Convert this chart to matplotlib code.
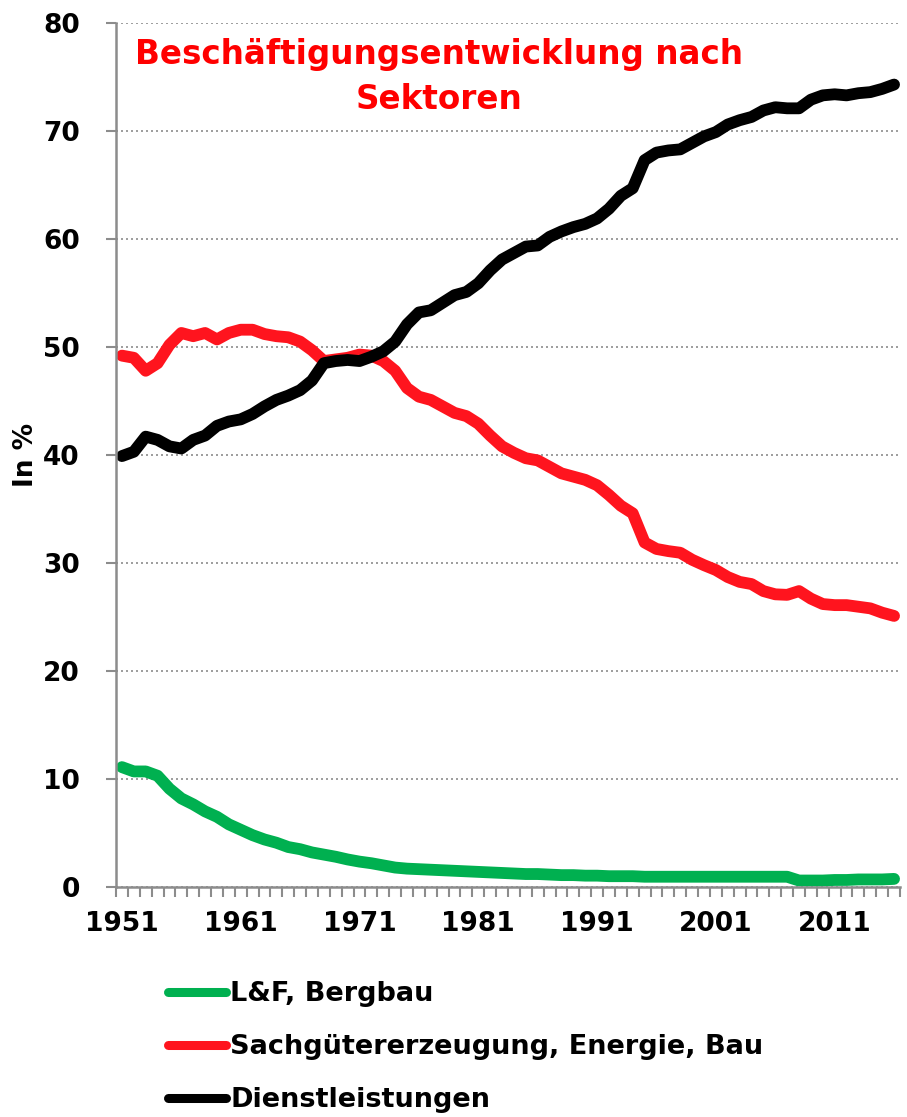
import matplotlib
matplotlib.use("Agg")
import matplotlib.pyplot as plt
from matplotlib.ticker import MultipleLocator, FixedLocator
import numpy as np

years = list(range(1951, 2017))

lf_bergbau = [11.1, 10.7, 10.7, 10.3, 9.1, 8.2, 7.65, 7.0, 6.5, 5.8,
              5.3, 4.8, 4.4, 4.1, 3.7, 3.5, 3.2, 3.0, 2.8, 2.55,
              2.35, 2.2, 2.0, 1.8, 1.7, 1.65, 1.6, 1.55, 1.5, 1.45,
              1.4, 1.35, 1.3, 1.25, 1.2, 1.2, 1.15, 1.1, 1.1, 1.05,
              1.05, 1.0, 1.0, 1.0, 0.95, 0.95, 0.95, 0.95, 0.95, 0.95,
              0.95, 0.95, 0.95, 0.95, 0.95, 0.95, 0.95, 0.6, 0.6, 0.6,
              0.65, 0.65, 0.7, 0.7, 0.7, 0.75]

sachgueter = [49.2, 49.0, 47.8, 48.5, 50.2, 51.3, 51.0, 51.3, 50.7, 51.3,
              51.6, 51.6, 51.2, 51.0, 50.9, 50.5, 49.7, 48.7, 48.85, 49.0,
              49.3, 49.2, 48.7, 47.8, 46.2, 45.4, 45.1, 44.5, 43.9, 43.6,
              42.9, 41.8, 40.8, 40.2, 39.7, 39.5, 38.9, 38.3, 38.0, 37.7,
              37.2, 36.3, 35.3, 34.6, 31.9, 31.3, 31.1, 30.95, 30.3, 29.8,
              29.35, 28.7, 28.25, 28.05, 27.4, 27.1, 27.05, 27.4, 26.7, 26.2,
              26.1, 26.1, 25.95, 25.8, 25.4, 25.1]

dienst = [39.9, 40.3, 41.7, 41.4, 40.8, 40.6, 41.4, 41.8, 42.7, 43.1,
          43.3, 43.8, 44.5, 45.1, 45.5, 46.0, 46.9, 48.5, 48.7, 48.8,
          48.7, 49.1, 49.6, 50.5, 52.1, 53.2, 53.4, 54.1, 54.8, 55.1,
          55.9, 57.1, 58.1, 58.7, 59.3, 59.4, 60.2, 60.7, 61.1, 61.4,
          61.9, 62.8, 64.0, 64.7, 67.3, 68.0, 68.2, 68.3, 68.9, 69.5,
          69.9, 70.6, 71.0, 71.3, 71.9, 72.2, 72.1, 72.1, 72.9, 73.3,
          73.4, 73.3, 73.5, 73.6, 73.9, 74.3]

labels = ["L&F, Bergbau", "Sachgütererzeugung, Energie, Bau", "Dienstleistungen"]
colors = ["#00B050", "#FF141E", "#000000"]
title = "Beschäftigungsentwicklung nach\nSektoren"
ylabel = "In %"
xtick_years = [1951, 1961, 1971, 1981, 1991, 2001, 2011]

plt.rcParams['font.family'] = ['DejaVu Sans']
plt.rcParams['font.weight'] = 'bold'

W, H = 907, 1117
fig = plt.figure(figsize=(W / 100, H / 100), dpi=100)
ax = fig.add_axes([116 / W, 1 - 887 / H, (900 - 116) / W, (887 - 23) / H])

for series, lab, col in zip([lf_bergbau, sachgueter, dienst], labels, colors):
    ax.plot(years, series, color=col, lw=8.5, label=lab,
            solid_capstyle='round', solid_joinstyle='round')

ax.set_xlim(1950.5, 2016.5)
ax.set_ylim(0, 80)
ax.yaxis.set_major_locator(MultipleLocator(10))
ax.xaxis.set_major_locator(FixedLocator(xtick_years))
ax.xaxis.set_minor_locator(FixedLocator(np.arange(1950.5, 2017, 1.0)))
ax.grid(axis='y', color='#8c8c8c', linestyle=(0, (1.2, 1.8)), lw=1.2)
ax.set_axisbelow(True)

for s in ['top', 'right']:
    ax.spines[s].set_visible(False)
for s in ['left', 'bottom']:
    ax.spines[s].set_color('#8c8c8c')
    ax.spines[s].set_linewidth(1.8)

ax.tick_params(axis='y', direction='out', length=7, width=1.5, color='#8c8c8c',
               labelsize=19, pad=19)
ax.tick_params(axis='x', which='major', length=0, labelsize=19, pad=17)
ax.tick_params(axis='x', which='minor', direction='out', length=7, width=1.5,
               color='#8c8c8c')
for lbl in ax.get_xticklabels() + ax.get_yticklabels():
    lbl.set_fontweight('bold')

ax.set_ylabel(ylabel, fontsize=19, fontweight='bold')
ax.yaxis.set_label_coords(-0.098, 0.5)

fig.text(439 / W, 1 - 77 / H, title, color='#FF0000', fontsize=23.5,
         fontweight='bold', ha='center', va='center', linespacing=1.45)

leg = ax.legend(loc='upper left', bbox_to_anchor=(168 / W, 1 - 981 / H),
                bbox_transform=fig.transFigure, frameon=False, fontsize=19.5,
                handlelength=2.15, handletextpad=0.15, labelspacing=1.0,
                borderaxespad=0, borderpad=0)
for t in leg.get_texts():
    t.set_fontweight('bold')
for l in leg.get_lines():
    l.set_linewidth(6.5)

fig.savefig('out.png', dpi=100)
